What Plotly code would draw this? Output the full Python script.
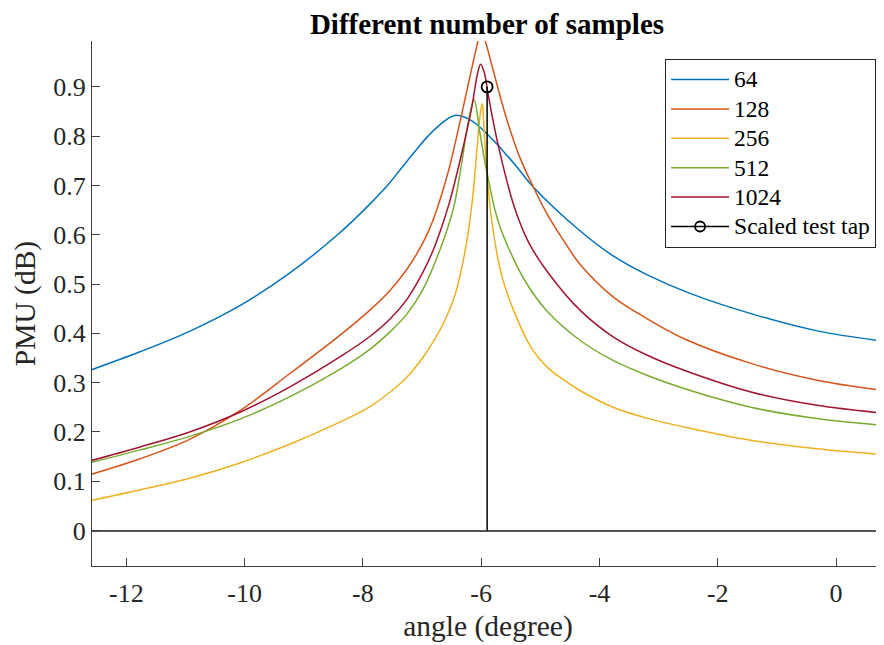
import plotly.graph_objects as go

# ---------------- data ----------------
x64 = [-12.59, -11.78, -10.93, -10.08, -9.24, -8.39, -7.90, -7.55, -7.33, -7.10, -6.90, -6.70,
       -6.45, -6.20, -6.00, -5.80, -5.60, -5.40, -5.12, -4.33, -3.77, -3.20, -2.47, -1.44,
       -0.32, 0.81]
y64 = [0.326, 0.362, 0.404, 0.456, 0.522, 0.604, 0.660, 0.705, 0.738, 0.772, 0.800, 0.823,
       0.842, 0.834, 0.816, 0.792, 0.766, 0.738, 0.697, 0.608, 0.557, 0.519, 0.481, 0.440,
       0.405, 0.384]

x128 = [-12.59, -11.78, -10.93, -10.08, -9.24, -8.39, -7.90, -7.55, -7.25, -6.98, -6.82,
        -6.67, -6.55, -6.42, -6.25, -6.14, -6.06, -6.00, -5.93, -5.80, -5.58, -5.35, -5.12,
        -4.90, -4.60, -4.33, -3.77, -3.20, -2.57, -1.44, -0.32, 0.81]
y128 = [0.114, 0.145, 0.185, 0.243, 0.318, 0.396, 0.445, 0.486, 0.531, 0.585, 0.628,
        0.681, 0.731, 0.796, 0.888, 0.948, 0.990, 1.020, 0.993, 0.935, 0.839, 0.758, 0.697,
        0.645, 0.587, 0.540, 0.474, 0.430, 0.389, 0.339, 0.305, 0.284]

x256 = [-12.59, -11.78, -10.93, -10.08, -9.24, -8.39, -7.90, -7.55, -7.25, -6.98, -6.80,
        -6.64, -6.45, -6.35, -6.25, -6.14, -6.06, -6.01, -5.98, -5.96, -5.91, -5.83, -5.66,
        -5.43, -5.15, -4.90, -4.60, -4.33, -3.77, -3.20, -2.57, -1.44, -0.32, 0.81]
y256 = [0.061, 0.082, 0.106, 0.137, 0.175, 0.220, 0.250, 0.280, 0.312, 0.352, 0.385,
        0.420, 0.475, 0.522, 0.582, 0.680, 0.790, 0.850, 0.866, 0.832, 0.737, 0.636, 0.520,
        0.440, 0.370, 0.333, 0.305, 0.284, 0.250, 0.228, 0.210, 0.183, 0.166, 0.154]

x512 = [-12.59, -11.78, -10.93, -10.08, -9.24, -8.39, -7.90, -7.55, -7.25, -6.98, -6.64,
        -6.50, -6.45, -6.33, -6.22, -6.12, -6.02, -5.91, -5.72, -5.45, -5.20, -4.90, -4.33,
        -3.77, -3.20, -2.57, -1.44, -0.32, 0.81]
y512 = [0.138, 0.163, 0.191, 0.226, 0.271, 0.327, 0.366, 0.402, 0.440, 0.490, 0.588,
        0.640, 0.663, 0.745, 0.828, 0.874, 0.805, 0.731, 0.630, 0.550, 0.495, 0.447, 0.386,
        0.345, 0.315, 0.288, 0.250, 0.227, 0.213]

x1024 = [-12.59, -11.78, -10.93, -10.08, -9.24, -8.39, -7.90, -7.55, -7.25, -6.98, -6.80,
         -6.67, -6.55, -6.45, -6.30, -6.16, -6.06, -6.01, -5.95, -5.89, -5.80, -5.70, -5.45,
         -5.20, -4.90, -4.33, -3.77, -3.20, -2.57, -1.44, -0.32, 0.81]
y1024 = [0.142, 0.169, 0.200, 0.240, 0.291, 0.352, 0.392, 0.428, 0.470, 0.525, 0.572,
         0.615, 0.660, 0.705, 0.780, 0.858, 0.928, 0.946, 0.930, 0.890, 0.832, 0.775, 0.660,
         0.585, 0.528, 0.447, 0.393, 0.356, 0.325, 0.281, 0.254, 0.238]

series_names = ["64", "128", "256", "512", "1024"]
series_x = [x64, x128, x256, x512, x1024]
series_y = [y64, y128, y256, y512, y1024]
series_colors = ["#0072BD", "#D95319", "#EDB120", "#77AC30", "#A2142F"]

stem_x = [-5.9]
stem_y = [0.9]
stem_name = "Scaled test tap"

x_tick_vals = [-12, -10, -8, -6, -4, -2, 0]
x_tick_text = ["-12", "-10", "-8", "-6", "-4", "-2", "0"]
y_tick_vals = [0, 0.1, 0.2, 0.3, 0.4, 0.5, 0.6, 0.7, 0.8, 0.9]
y_tick_text = ["0", "0.1", "0.2", "0.3", "0.4", "0.5", "0.6", "0.7", "0.8", "0.9"]

title_text = "Different number of samples"
x_title = "angle (degree)"
y_title = "PMU (dB)"

# ---------------- figure ----------------
FONT = "Liberation Serif, Times New Roman, serif"
AX = "#404040"
# the page body adds an 8px offset; the figure is sized so that it fits the window
W, H = 876, 637
LEG_TXT = 23.5   # drawn size of legend labels


def leg(name):
    return '<span style="font-size:%gpx">%s</span>' % (LEG_TXT, name)


fig = go.Figure()
for nm, xs, ys, c in zip(series_names, series_x, series_y, series_colors):
    fig.add_trace(go.Scatter(x=xs, y=ys, name=leg(nm), mode="lines",
                             line=dict(color=c, width=1.5, shape="spline", smoothing=1.0)))

# stem: vertical line from baseline to value, circle at top
fig.add_trace(go.Scatter(x=[stem_x[0], stem_x[0]], y=[0, stem_y[0]], mode="lines",
                         line=dict(color="black", width=1.5), showlegend=False,
                         hoverinfo="skip"))
fig.add_trace(go.Scatter(x=stem_x, y=stem_y, mode="markers",
                         marker=dict(symbol="circle-open", size=11, color="black",
                                     line=dict(width=1.8, color="black")),
                         showlegend=False))
# legend proxy for the stem
fig.add_trace(go.Scatter(x=[None], y=[None], mode="lines+markers", name=leg(stem_name),
                         line=dict(color="black", width=1.5),
                         marker=dict(symbol="circle-open", size=10, color="black",
                                     line=dict(width=1.8, color="black"))))

fig.update_layout(
    width=W, height=H,
    margin=dict(l=84, r=0, t=33, b=79, autoexpand=False),
    paper_bgcolor="white", plot_bgcolor="white",
    font=dict(family=FONT, size=26, color="#262626"),
    title=dict(text="<b>" + title_text + "</b>", x=479 / W, xanchor="center",
               y=1 - 16 / H, yanchor="middle", yref="container", xref="container",
               font=dict(family=FONT, size=29, color="black")),
    showlegend=True,
    legend=dict(x=0.99, xanchor="right", y=0.966, yanchor="top",
                bgcolor="white", bordercolor="#262626", borderwidth=1,
                font=dict(family=FONT, size=20.3, color="black"),
                tracegroupgap=0, itemwidth=58),
    xaxis=dict(range=[-12.58, 0.81], tickmode="array", tickvals=x_tick_vals,
               ticktext=x_tick_text, ticks="inside", ticklen=8, tickcolor=AX,
               showline=True, linecolor=AX, linewidth=1, mirror=False,
               showgrid=False, zeroline=False, automargin=False, ticklabelstandoff=4,
               title=dict(text=x_title, font=dict(family=FONT, size=29.5, color="#262626"),
                          standoff=8),
               tickfont=dict(family=FONT, size=26, color="#262626")),
    yaxis=dict(range=[-0.072, 0.993], tickmode="array", tickvals=y_tick_vals,
               ticktext=y_tick_text, ticks="inside", ticklen=8, tickcolor=AX,
               showline=True, linecolor=AX, linewidth=1, mirror=False,
               showgrid=False, zeroline=True, zerolinecolor="#555555", zerolinewidth=1.5,
               automargin=False,
               title=dict(text=y_title, font=dict(family=FONT, size=29.5, color="#262626"),
                          standoff=8),
               tickfont=dict(family=FONT, size=26, color="#262626")),
)

fig.write_html("out.html")
